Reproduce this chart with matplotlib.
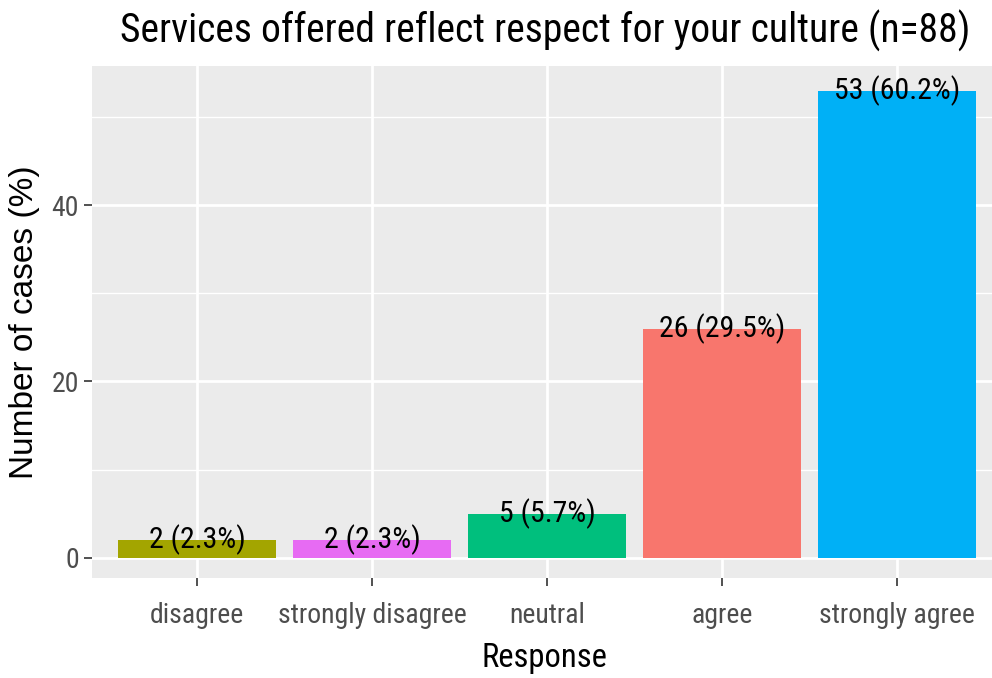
import matplotlib
matplotlib.use("Agg")
import matplotlib.pyplot as plt
from matplotlib.ticker import MultipleLocator

categories = ["disagree", "strongly disagree", "neutral", "agree", "strongly agree"]
counts = [2, 2, 5, 26, 53]
percents = [2.3, 2.3, 5.7, 29.5, 60.2]
fills = ["#A3A500", "#E76BF3", "#00BF7D", "#F8766D", "#00B0F6"]
title = "Services offered reflect respect for your culture (n=88)"
xlabel = "Response"
ylabel = "Number of cases (%)"

narrow = ["Roboto Condensed", "Liberation Sans", "DejaVu Sans"]
regular = ["Liberation Sans", "DejaVu Sans"]

W, H = 992, 678
fig = plt.figure(figsize=(W / 100, H / 100), dpi=100)
fig.patch.set_facecolor("white")

left, right, top, bottom = 92, 1002, 65.5, 578
ax = fig.add_axes([left / W, 1 - bottom / H, (right - left) / W, (bottom - top) / H])
ax.set_facecolor("#EBEBEB")

x = list(range(1, len(categories) + 1))
ax.bar(x, counts, width=0.9, color=fills, zorder=3)
for xi, c, p in zip(x, counts, percents):
    ax.text(xi, c, f"{c} ({p}%)", ha="center", va="center",
            fontsize=21.5, family=narrow, color="black", zorder=4)

ax.set_xlim(0.4, 5.6)
ax.set_ylim(-2.3, 55.85)
ax.set_xticks(x)
ax.set_xticklabels(categories, family=narrow, fontsize=20, color="#4D4D4D")
ax.yaxis.set_major_locator(MultipleLocator(20))
ax.yaxis.set_minor_locator(MultipleLocator(10))
for lab in ax.get_yticklabels():
    lab.set_family(narrow)
    lab.set_fontsize(20)
    lab.set_color("#4D4D4D")

ax.grid(which="major", color="white", linewidth=2.0, zorder=1)
ax.grid(which="minor", axis="y", color="white", linewidth=1.0, zorder=1)
ax.tick_params(which="major", length=5.5, width=1.2, color="#333333", pad=4)
ax.tick_params(axis="x", pad=12)
ax.tick_params(which="minor", length=0)
for s in ax.spines.values():
    s.set_visible(False)

fig.text(545 / W, 1 - 43 / H, title, ha="center", va="baseline",
         fontsize=28.5, family=narrow, color="black")
fig.text(544 / W, 1 - 667 / H, xlabel, ha="center", va="baseline",
         fontsize=23.5, family=narrow, color="black")
fig.text(25 / W, 1 - 322 / H, ylabel, ha="center", va="center", rotation=90,
         fontsize=24, family=regular, color="black")

fig.savefig("out.png", dpi=100)
